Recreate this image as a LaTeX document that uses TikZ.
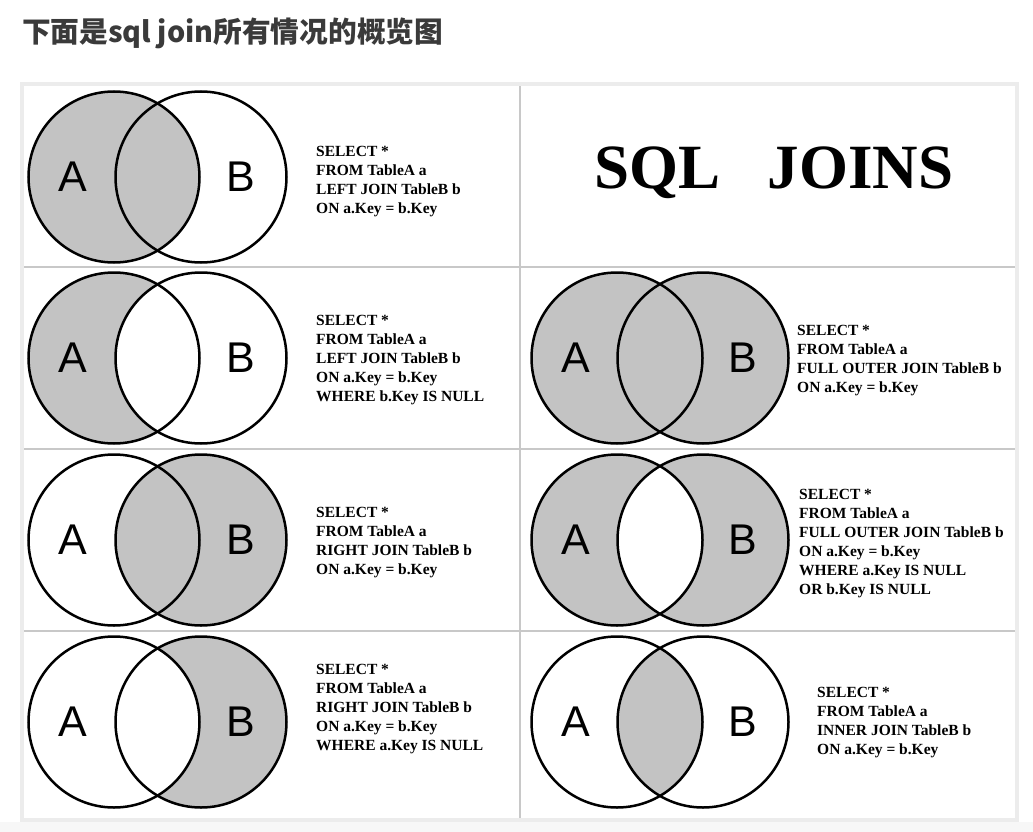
\documentclass[tikz,border=0pt]{standalone}
\usepackage{fontspec}
\setmainfont{Liberation Serif}
\newfontfamily\cjkfont{Noto Sans CJK SC}
\newfontfamily\arialfont{Liberation Sans}
\definecolor{shadecol}{HTML}{C3C3C3}
\definecolor{framecol}{HTML}{ECECEC}
\definecolor{gridcol}{HTML}{C8C8C8}
\definecolor{stripcol}{HTML}{F7F7F7}
\definecolor{titlecol}{HTML}{3A3A3A}
\tikzset{
  vc/.style={circle, draw=black, line width=2.5pt, minimum size=171pt, inner sep=0pt, outer sep=0pt},
  lbl/.style={font=\arialfont\fontsize{43}{43}\selectfont, inner sep=0pt},
  code/.style={font=\fontsize{15.5}{19}\selectfont\bfseries, align=left, anchor=north west, inner sep=0pt},
}
\begin{document}
\begin{tikzpicture}[x=1pt,y=-1pt]
\useasboundingbox (0,0) rectangle (1033,832);
\fill[white] (0,0) rectangle (1033,832);
\fill[stripcol] (0,822) rectangle (1033,832);
\node[anchor=west, inner sep=0pt, text=titlecol, font=\cjkfont\bfseries\fontsize{28.7}{29}\selectfont] (title) at (22,33) {下面是sql join所有情况的概览图};
% frame and grid
\draw[framecol, line width=4pt] (22,84.5) rectangle (1017,819.5);
\draw[gridcol, line width=2.5pt] (520,86.5) -- (520,817.5);
\foreach \yy in {267,449,631} \draw[gridcol, line width=2.5pt] (24,\yy) -- (1015,\yy);
% ---------- Row 1 left: LEFT JOIN
\fill[shadecol] (114,177) circle (85.5pt);
\node[vc] (a1) at (114,177) {};
\node[vc] (b1) at (201,177) {};
\node[lbl] (la1) at (73,177) {A};
\node[lbl] (lb1) at (241,177) {B};
\node[code] (t1) at (316,146) {SELECT *\\FROM TableA a\\LEFT JOIN TableB b\\ON a.Key = b.Key};
% ---------- Row 1 right: title
\node[inner sep=0pt, anchor=base, font=\fontsize{63}{63}\selectfont\bfseries] (sqlj) at (774,188) {SQL\hspace*{47pt}JOINS};
% ---------- Row 2 left: LEFT JOIN where B null
\fill[shadecol] (114,358) circle (85.5pt);
\fill[white] (201,358) circle (85.5pt);
\node[vc] (a2) at (114,358) {};
\node[vc] (b2) at (201,358) {};
\node[lbl] (la2) at (73,358) {A};
\node[lbl] (lb2) at (241,358) {B};
\node[code] (t2) at (316,315) {SELECT *\\FROM TableA a\\LEFT JOIN TableB b\\ON a.Key = b.Key\\WHERE b.Key IS NULL};
% ---------- Row 2 right: FULL OUTER JOIN
\fill[shadecol] (617,358) circle (85.5pt);
\fill[shadecol] (703,358) circle (85.5pt);
\node[vc] (a3) at (617,358) {};
\node[vc] (b3) at (703,358) {};
\node[lbl] (la3) at (576,358) {A};
\node[lbl] (lb3) at (743,358) {B};
\node[code] (t3) at (797,325) {SELECT *\\FROM TableA a\\FULL OUTER JOIN TableB b\\ON a.Key = b.Key};
% ---------- Row 3 left: RIGHT JOIN
\fill[shadecol] (201,540) circle (85.5pt);
\node[vc] (a4) at (114,540) {};
\node[vc] (b4) at (201,540) {};
\node[lbl] (la4) at (73,540) {A};
\node[lbl] (lb4) at (241,540) {B};
\node[code] (t4) at (316,507) {SELECT *\\FROM TableA a\\RIGHT JOIN TableB b\\ON a.Key = b.Key};
% ---------- Row 3 right: FULL OUTER JOIN exclusive
\fill[shadecol] (617,540) circle (85.5pt);
\fill[shadecol] (703,540) circle (85.5pt);
\begin{scope}
  \clip (617,540) circle (85.5pt);
  \fill[white] (703,540) circle (85.5pt);
\end{scope}
\node[vc] (a5) at (617,540) {};
\node[vc] (b5) at (703,540) {};
\node[lbl] (la5) at (576,540) {A};
\node[lbl] (lb5) at (743,540) {B};
\node[code] (t5) at (799,489) {SELECT *\\FROM TableA a\\FULL OUTER JOIN TableB b\\ON a.Key = b.Key\\WHERE a.Key IS NULL\\OR b.Key IS NULL};
% ---------- Row 4 left: RIGHT JOIN where A null
\fill[shadecol] (201,722) circle (85.5pt);
\fill[white] (114,722) circle (85.5pt);
\node[vc] (a6) at (114,722) {};
\node[vc] (b6) at (201,722) {};
\node[lbl] (la6) at (73,722) {A};
\node[lbl] (lb6) at (241,722) {B};
\node[code] (t6) at (316,664) {SELECT *\\FROM TableA a\\RIGHT JOIN TableB b\\ON a.Key = b.Key\\WHERE a.Key IS NULL};
% ---------- Row 4 right: INNER JOIN
\begin{scope}
  \clip (617,722) circle (85.5pt);
  \fill[shadecol] (703,722) circle (85.5pt);
\end{scope}
\node[vc] (a7) at (617,722) {};
\node[vc] (b7) at (703,722) {};
\node[lbl] (la7) at (576,722) {A};
\node[lbl] (lb7) at (743,722) {B};
\node[code] (t7) at (817,687) {SELECT *\\FROM TableA a\\INNER JOIN TableB b\\ON a.Key = b.Key};
\end{tikzpicture}
\end{document}
